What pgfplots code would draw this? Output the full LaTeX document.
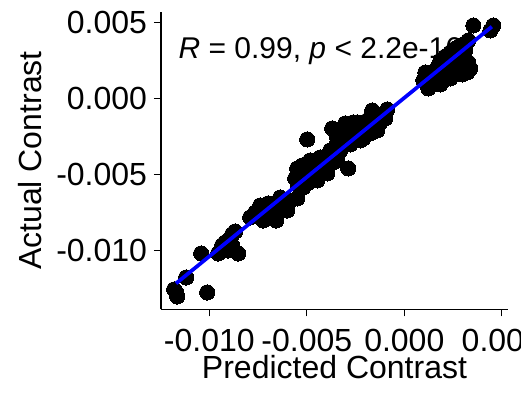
\documentclass[border=0pt]{standalone}
\usepackage{fontspec}
\setmainfont{Liberation Sans}
\usepackage{pgfplots}
\pgfplotsset{compat=1.18}
\begin{document}
\begin{tikzpicture}
\begin{axis}[
  scale only axis,
  width=260.25pt, height=223.2pt,
  xmin=-0.01248, xmax=0.00532,
  ymin=-0.013855, ymax=0.005724,
  axis x line*=bottom, axis y line*=left,
  axis line style={-, line width=0.8pt, black},
  tick style={line width=0.8pt, black},
  tick align=outside,
  major tick length=5.3pt,
  scaled ticks=false,
  xtick={-0.01,-0.005,0,0.005},
  ytick={-0.01,-0.005,0,0.005},
  xticklabels={-0.010,-0.005,0.000,0.005},
  yticklabels={-0.010,-0.005,0.000,0.005},
  tick label style={font=\fontsize{24}{28}\selectfont, inner sep=0pt},
  xticklabel style={anchor=base, yshift=-26.5pt},
  yticklabel style={anchor=east, xshift=-5pt},
  xlabel={Predicted Contrast},
  ylabel={Actual Contrast},
  label style={font=\fontsize{24}{28}\selectfont, inner sep=0pt},
  xlabel style={at={(axis description cs:0.5,-0.2330)}, anchor=base},
  ylabel style={at={(axis description cs:-0.3430,0.5)}, anchor=base, rotate=0},
  clip=false,
  clip mode=individual,
]
\node[anchor=base west, inner sep=0pt, font=\fontsize{22.5}{26}\selectfont] at (axis description cs:0.0499,0.8434) {\textit{R} = 0.99, \textit{p} < 2.2e-16};
\addplot[only marks, mark=*, mark size=5.7pt, mark options={fill=black, draw=black, line width=0pt}] coordinates {
(-0.011807,-0.012546) (-0.011653,-0.013007) (-0.011704,-0.012743) (-0.011191,-0.011757)
(-0.010113,-0.012743) (-0.010421,-0.010178) (-0.009343,-0.009651) (-0.009548,-0.010178)
(-0.009035,-0.009980) (-0.008522,-0.010178) (-0.008830,-0.008928) (-0.008676,-0.008730)
(-0.009189,-0.009454) (-0.007906,-0.007809) (-0.007649,-0.007480) (-0.007392,-0.007020)
(-0.007238,-0.008007) (-0.007033,-0.007546) (-0.006725,-0.007020) (-0.006366,-0.006493)
(-0.006006,-0.007349) (-0.005493,-0.006559) (-0.006571,-0.008007) (-0.006212,-0.007151)
(-0.007290,-0.007217) (-0.006879,-0.007349) (-0.005493,-0.004586) (-0.005339,-0.005375)
(-0.004979,-0.004257) (-0.004466,-0.004059) (-0.004158,-0.003862) (-0.005185,-0.005836)
(-0.004671,-0.005375) (-0.005596,-0.005243) (-0.005236,-0.004388) (-0.004825,-0.004059)
(-0.004312,-0.003862) (-0.003799,-0.003730) (-0.003439,-0.004059) (-0.003953,-0.004914)
(-0.004466,-0.005375) (-0.004979,-0.005572) (-0.002875,-0.004586) (-0.004979,-0.002678)
(-0.003439,-0.002875) (-0.003696,-0.001954) (-0.003439,-0.002546) (-0.003029,-0.001625)
(-0.002618,-0.001559) (-0.002413,-0.001559) (-0.002259,-0.001888) (-0.001643,-0.000770)
(-0.000873,-0.000704) (-0.001899,-0.001428) (-0.001386,-0.001230) (-0.001232,-0.001559)
(-0.001745,-0.002283) (-0.002259,-0.002743) (-0.002772,-0.003007) (-0.003131,-0.002941)
(-0.002105,-0.002612) (-0.001386,-0.002086) (-0.003799,-0.003401) (-0.003285,-0.003401)
(0.001078,0.001730) (0.000975,0.001204) (0.001232,0.000678) (0.001694,0.002059)
(0.002002,0.001204) (0.002361,0.002322) (0.002721,0.001664) (0.003029,0.002059)
(0.003285,0.002388) (0.003234,0.001730) (0.002875,0.002980) (0.002515,0.002717)
(0.001489,0.001401) (0.001848,0.002520) (0.002207,0.002059) (0.003131,0.003178)
(0.003285,0.003836) (0.003542,0.004822) (0.004569,0.004822) (0.004415,0.004493)
(0.003388,0.001993) (0.001386,0.000941)
(-0.005339,-0.004849) (-0.005082,-0.005046) (-0.004825,-0.004717) (-0.004569,-0.004586)
(-0.004312,-0.004388) (-0.004055,-0.004191) (-0.004928,-0.005243) (-0.005442,-0.005704)
(-0.004415,-0.005046) (-0.003645,-0.004191) (-0.004209,-0.004717) (-0.005185,-0.004586)
(-0.003285,-0.002217) (-0.002875,-0.002086) (-0.002515,-0.001954) (-0.002156,-0.001757)
(-0.001848,-0.001559) (-0.001540,-0.001428) (-0.001078,-0.001099) (-0.002772,-0.002612)
(-0.002464,-0.002414) (-0.002002,-0.002086) (-0.001643,-0.001822) (-0.003029,-0.002743)
(-0.000975,-0.001296)
(0.001335,0.001204) (0.001745,0.001533) (0.002105,0.001730) (0.002464,0.001993)
(0.002772,0.002257) (0.002977,0.002520) (0.001848,0.000941) (0.002361,0.001336)
(0.002977,0.001599) (0.001591,0.001862) (0.001181,0.001467)
(0.002618,0.003309) (0.002875,0.003507) (0.002361,0.003046) (0.002105,0.002783)
(-0.007495,-0.007678) (-0.007136,-0.007349) (-0.006776,-0.007480) (-0.006468,-0.007020)
(-0.006109,-0.006888) (-0.005852,-0.006691) (-0.006982,-0.006888) (-0.006571,-0.007546)
(-0.009035,-0.009322) (-0.008830,-0.009651)
};
\addplot[no marks, color={rgb,255:red,0;green,0;blue,255}, line width=2.8pt] coordinates {(-0.01171,-0.01215) (0.00449,0.00474)};
\end{axis}
\fill[white] (270pt,-65.77pt) rectangle (277pt,232pt);
\pgfresetboundingbox
\useasboundingbox (-120.75pt,-65.77pt) rectangle (276.75pt,232pt);
\end{tikzpicture}
\end{document}
